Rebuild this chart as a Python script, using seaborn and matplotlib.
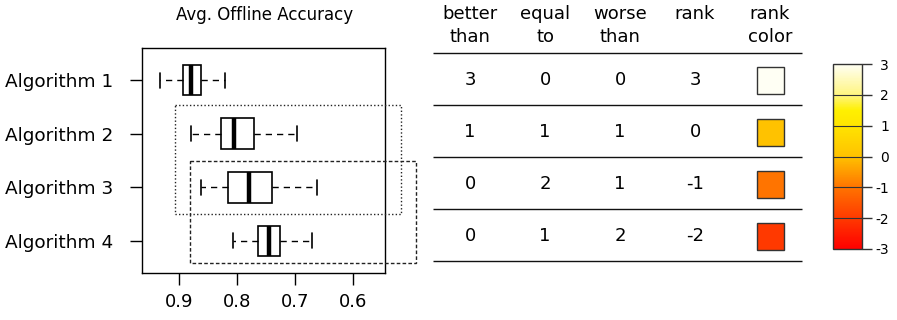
import numpy as np
import pandas as pd
import matplotlib
matplotlib.use("Agg")
import matplotlib.pyplot as plt
from matplotlib.patches import Rectangle
from matplotlib.colors import LinearSegmentedColormap, Normalize
from matplotlib.cm import ScalarMappable
import seaborn as sns

# ---- data -------------------------------------------------------------
algorithms = ["Algorithm 1", "Algorithm 2", "Algorithm 3", "Algorithm 4"]

# five-number summaries of the average offline accuracy
acc_min = [0.821, 0.697, 0.661, 0.671]
acc_q1 = [0.863, 0.771, 0.739, 0.725]
acc_median = [0.879, 0.805, 0.779, 0.745]
acc_q3 = [0.893, 0.828, 0.815, 0.764]
acc_max = [0.933, 0.880, 0.863, 0.807]

# pairwise comparison summary
better_than = [3, 1, 0, 0]
equal_to = [0, 1, 2, 1]
worse_than = [0, 1, 1, 2]
rank = [3, 0, -1, -2]

# groups of algorithms that are not significantly different
groups = [[1, 2], [2, 3]]
group_x_hi = [0.907, 0.881]
group_x_lo = [0.517, 0.491]
group_pad_top = [0.53, 0.50]
group_pad_bottom = [0.49, 0.41]
group_styles = [(0, (1, 1.6)), (0, (2.6, 1.6))]

header_top = ["better", "equal", "worse", "rank", "rank"]
header_bottom = ["than", "to", "than", "", "color"]

rank_ticks = [-3, -2, -1, 0, 1, 2, 3]

# ---- long-form table for seaborn --------------------------------------
rows = []
for name, a, b, c, d, e in zip(algorithms, acc_min, acc_q1, acc_median, acc_q3, acc_max):
    for v in (a, b, c, d, e):
        rows.append({"algorithm": name, "accuracy": v})
df = pd.DataFrame(rows)

sns.set_theme(style="white", rc={
    "text.color": "black", "axes.labelcolor": "black",
    "xtick.color": "black", "ytick.color": "black",
    "axes.edgecolor": "black", "axes.unicode_minus": False,
})
plt.rcParams["font.family"] = ["DejaVu Sans"]

W, H = 897, 320
fig = plt.figure(figsize=(W / 100, H / 100), dpi=100)

ax = fig.add_axes([142 / W, 1 - 273 / H, (385 - 142) / W, (273 - 48) / H])
sns.boxplot(
    data=df, x="accuracy", y="algorithm", orient="h", ax=ax,
    whis=(0, 100), width=0.57, color="white", linecolor="black", linewidth=1.2,
    whiskerprops={"linestyle": (0, (4.5, 3.6)), "linewidth": 1.0},
    capprops={"linewidth": 1.2},
    medianprops={"linewidth": 3.2, "color": "black"},
    showfliers=False,
)
ax.set_xlim(0.9645, 0.544)
ax.set_ylim(3.6, -0.6)
ax.set_xticks([0.9, 0.8, 0.7, 0.6])
ax.set_xticklabels(["0.9", "0.8", "0.7", "0.6"])
ax.set_xlabel("")
ax.set_ylabel("")
for s in ax.spines.values():
    s.set_visible(True)
    s.set_color("black")
    s.set_linewidth(1.0)
ax.tick_params(axis="y", length=8.6, width=1, color="black", pad=12, labelsize=13.3, left=True)
ax.tick_params(axis="x", length=8.6, width=1, color="black", pad=6, labelsize=13, bottom=True)

# frames around groups of equivalent algorithms
for members, xhi, xlo, pt, pb, ls in zip(groups, group_x_hi, group_x_lo,
                                         group_pad_top, group_pad_bottom, group_styles):
    y0 = min(members) - pt
    y1 = max(members) + pb
    ax.add_patch(Rectangle((xhi, y0), xlo - xhi, y1 - y0, fill=False,
                           edgecolor="#222222", linewidth=1.0, linestyle=ls,
                           clip_on=False, zorder=5))

fig.text(265 / W, 1 - 15 / H, "Avg. Offline Accuracy", ha="center", va="center", fontsize=12)

# ---- colour scale -----------------------------------------------------
cmap = LinearSegmentedColormap.from_list(
    "heat",
    [(0.0, "#FF0000"), (1 / 6, "#FF3A00"), (2 / 6, "#FF7400"), (3 / 6, "#FFC200"),
     (4 / 6, "#FFE400"), (0.75, "#FFF000"), (5 / 6, "#FFF580"), (1.0, "#FFFFF4")],
)
norm = Normalize(vmin=-3, vmax=3)

# ---- comparison table -------------------------------------------------
tab = fig.add_axes([432.5 / W, 1 - 261 / H, 375 / W, 208 / H])
tab.set_xlim(0, 5)
tab.set_ylim(4, 0)
tab.axis("off")
tab.hlines(range(5), 0, 369 / 75, color="#111111", linewidth=1.0, clip_on=False)
for j, (t, b) in enumerate(zip(header_top, header_bottom)):
    tab.text(j + 0.5, -0.75, t, ha="center", va="center", fontsize=13, clip_on=False)
    if b:
        tab.text(j + 0.5, -0.30, b, ha="center", va="center", fontsize=13, clip_on=False)
for i in range(len(algorithms)):
    for j, col in enumerate((better_than, equal_to, worse_than, rank)):
        tab.text(j + 0.5, i + 0.52, str(col[i]), ha="center", va="center", fontsize=13)
    tab.add_patch(Rectangle((4.5 - 0.18, i + 0.52 - 0.26), 0.36, 0.52,
                            facecolor=cmap(norm(rank[i])), edgecolor="#333333",
                            linewidth=1.0))

# ---- colour bar -------------------------------------------------------
cax = fig.add_axes([833 / W, 1 - 249 / H, 29 / W, 185 / H])
cb = fig.colorbar(ScalarMappable(norm=norm, cmap=cmap), cax=cax, ticks=rank_ticks)
cb.outline.set_edgecolor("#333333")
cb.outline.set_linewidth(1.0)
for v in rank_ticks[1:-1]:
    cax.axhline(v, color="#333333", linewidth=0.8)
cax.tick_params(axis="y", length=7, width=1, color="#333333", pad=12.5, labelsize=10)
cax.set_yticklabels([str(v) for v in rank_ticks])
for lbl in cax.get_yticklabels():
    lbl.set_horizontalalignment("right")

fig.savefig("out.png", dpi=100, facecolor="white")
